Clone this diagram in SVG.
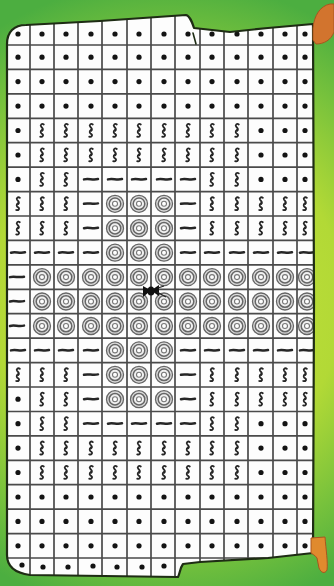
<svg xmlns="http://www.w3.org/2000/svg" width="334" height="586" viewBox="0 0 334 586">
<style>
.sq{fill:none;stroke:#262626;stroke-width:1.8;stroke-linecap:round}
.wv{fill:none;stroke:#262626;stroke-width:2.5;stroke-linecap:round}
.grid{fill:none;stroke:#4a4a4a;stroke-width:1.7}
.edge{fill:none;stroke:#1e2c14;stroke-width:2.2;stroke-linejoin:round}
</style>
<defs>
<radialGradient id="bg" cx="167" cy="300" r="320" gradientUnits="userSpaceOnUse">
<stop offset="0" stop-color="#cde43a"/>
<stop offset="0.55" stop-color="#b2d936"/>
<stop offset="0.8" stop-color="#78c23c"/>
<stop offset="1" stop-color="#4cae40"/>
</radialGradient>
<clipPath id="clip"><path d="M7,44 C7,32 14,25 26,25 L100,21 L186,15 C190,16 192,22 194,28 L230,32 L268,28 L313,24 L314,300 L313,553 L268,558 L200,562 L183,564 C180,568 180,573 178,577 L30,575 C15,573 7,566 7,555 Z"/></clipPath>
<circle id="d" r="2.6" fill="#141414"/>
<path id="s" class="sq" d="M1.8,-6 C0,-7.5 -2.2,-5.5 -0.8,-3.8 C0.6,-2.2 1.8,-1.2 0.2,0.2 M-0.2,-0.6 C-2,0.8 -1.5,2.8 0.3,3.6 C2,4.6 0.6,7 -1.8,6.2"/>
<path id="w" class="wv" d="M-7,0 C-3,-1.3 2,0.9 7,-0.4"/>
<g id="o">
<circle r="8.5" fill="#dcdcdc" stroke="#666" stroke-width="1.3"/>
<circle r="5.8" fill="#f0f0f0" stroke="#666" stroke-width="1.5"/>
<circle r="2.5" fill="#fff" stroke="#777" stroke-width="1.1"/>
</g>
<g id="rowA"><use href="#d" x="18"/><use href="#d" x="42"/><use href="#d" x="66"/><use href="#d" x="91"/><use href="#d" x="115"/><use href="#d" x="139"/><use href="#d" x="164"/><use href="#d" x="188"/><use href="#d" x="212"/><use href="#d" x="237"/><use href="#d" x="261"/><use href="#d" x="285"/><use href="#d" x="305"/></g>
<g id="rowB"><use href="#d" x="18"/><use href="#s" x="42"/><use href="#s" x="66"/><use href="#s" x="91"/><use href="#s" x="115"/><use href="#s" x="139"/><use href="#s" x="164"/><use href="#s" x="188"/><use href="#s" x="212"/><use href="#s" x="237"/><use href="#d" x="261"/><use href="#d" x="285"/><use href="#d" x="305"/></g>
<g id="rowC"><use href="#d" x="18"/><use href="#s" x="42"/><use href="#s" x="66"/><use href="#w" x="91"/><use href="#w" x="115"/><use href="#w" x="139"/><use href="#w" x="164"/><use href="#w" x="188"/><use href="#s" x="212"/><use href="#s" x="237"/><use href="#d" x="261"/><use href="#d" x="285"/><use href="#d" x="305"/></g>
<g id="rowD"><use href="#s" x="18"/><use href="#s" x="42"/><use href="#s" x="66"/><use href="#w" x="91"/><use href="#o" x="115"/><use href="#o" x="139"/><use href="#o" x="164"/><use href="#w" x="188"/><use href="#s" x="212"/><use href="#s" x="237"/><use href="#s" x="261"/><use href="#s" x="285"/><use href="#s" x="305"/></g>
<g id="rowG"><use href="#d" x="18"/><use href="#s" x="42"/><use href="#s" x="66"/><use href="#w" x="91"/><use href="#o" x="115"/><use href="#o" x="139"/><use href="#o" x="164"/><use href="#w" x="188"/><use href="#s" x="212"/><use href="#s" x="237"/><use href="#s" x="261"/><use href="#s" x="285"/><use href="#s" x="305"/></g>
<g id="rowE"><use href="#w" x="18"/><use href="#w" x="42"/><use href="#w" x="66"/><use href="#w" x="91"/><use href="#o" x="115"/><use href="#o" x="139"/><use href="#o" x="164"/><use href="#w" x="188"/><use href="#w" x="212"/><use href="#w" x="237"/><use href="#w" x="261"/><use href="#w" x="285"/><use href="#w" x="307"/></g>
<g id="rowF"><use href="#w" x="17"/><use href="#o" x="42"/><use href="#o" x="66"/><use href="#o" x="91"/><use href="#o" x="115"/><use href="#o" x="139"/><use href="#o" x="164"/><use href="#o" x="188"/><use href="#o" x="212"/><use href="#o" x="237"/><use href="#o" x="261"/><use href="#o" x="285"/><use href="#o" x="307"/></g>
</defs>

<rect id="background" width="334" height="586" fill="url(#bg)"/>

<g id="cloth">
<path d="M7,44 C7,32 14,25 26,25 L100,21 L186,15 C190,16 192,22 194,28 L230,32 L268,28 L313,24 L314,300 L313,553 L268,558 L200,562 L183,564 C180,568 180,573 178,577 L30,575 C15,573 7,566 7,555 Z" fill="#fdfdfd"/>
<g clip-path="url(#clip)">
<path class="grid" d="M0,45H334M0,69.4H334M0,93.9H334M0,118.3H334M0,142.7H334M0,167.2H334M0,191.6H334M0,216H334M0,240.4H334M0,264.9H334M0,289.3H334M0,313.7H334M0,338.2H334M0,362.6H334M0,387H334M0,411.5H334M0,435.9H334M0,460.3H334M0,484.7H334M0,509.2H334M0,533.6H334M0,558H334M30,0V586M54,0V586M78,0V586M102,0V586M127,0V586M151,0V586M175,0V586M200,0V586M224,0V586M248,0V586M273,0V586M297,0V586"/>
<g id="rows">
<use href="#rowA" y="34"/>
<use href="#rowA" y="57.2"/>
<use href="#rowA" y="81.6"/>
<use href="#rowA" y="106.1"/>
<use href="#rowB" y="130.5"/>
<use href="#rowB" y="155"/>
<use href="#rowC" y="179.4"/>
<use href="#rowD" y="203.8"/>
<use href="#rowD" y="228.2"/>
<use href="#rowE" y="252.7"/>
<use href="#rowF" y="277.1"/>
<use href="#rowF" y="301.5"/>
<use href="#rowF" y="326"/>
<use href="#rowE" y="350.4"/>
<use href="#rowD" y="374.8"/>
<use href="#rowG" y="399.2"/>
<use href="#rowC" y="423.7"/>
<use href="#rowB" y="448.1"/>
<use href="#rowB" y="472.5"/>
<use href="#rowA" y="497"/>
<use href="#rowA" y="521.4"/>
<use href="#rowA" y="545.8"/>
<use href="#d" x="22" y="565"/><use href="#d" x="43" y="567"/><use href="#d" x="68" y="567"/><use href="#d" x="93" y="566"/><use href="#d" x="117" y="567"/><use href="#d" x="142" y="567"/><use href="#d" x="164" y="566"/>
</g>
</g>
<path class="edge" d="M7,44 C7,32 14,25 26,25 L100,21 L186,15 C190,16 192,22 194,28 L230,32 L268,28 L313,24 L314,300 L313,553 L268,558 L200,562 L183,564 C180,568 180,573 178,577 L30,575 C15,573 7,566 7,555 Z"/>
<path d="M193,33 L196,44" fill="none" stroke="#1e2c14" stroke-width="1.6" stroke-linecap="round"/>
</g>

<g id="tab-top">
<path d="M313,28 C314,16 320,6 330,4 L334,4 L334,32 C331,40 324,44 316,44 L313,40 Z" fill="#d2742e" stroke="#a9561f" stroke-width="1"/>
</g>
<g id="tab-bottom">
<path d="M311,538 L325,537 C326,550 328,562 327,570 C325,574 321,573 319,568 L317,558 C315,555 312,554 311,553 Z" fill="#e08a2e" stroke="#a9561f" stroke-width="1"/>
</g>

<g id="bug">
<path d="M143,286 L151,290.5 L143,297 Z M159,285 L151,290.5 L159,296 Z" fill="#111"/>
<ellipse cx="151" cy="291" rx="3.5" ry="4.5" fill="#111"/>
<path d="M157,292 L166,297 M158,288 L164,286" stroke="#222" stroke-width="1.3" fill="none"/>
</g>
</svg>
